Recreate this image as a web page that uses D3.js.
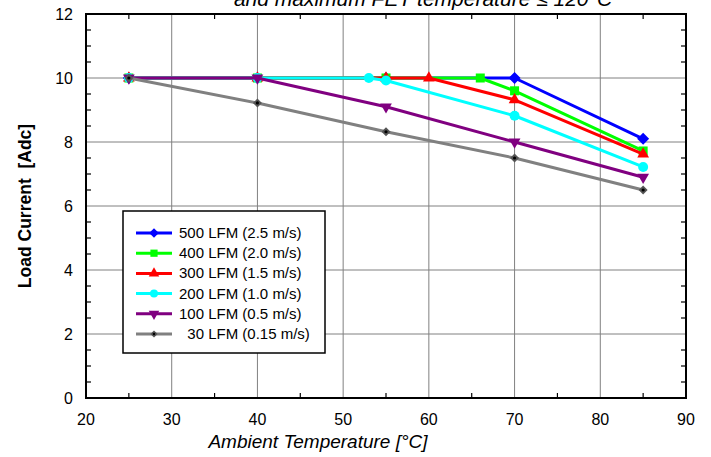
<!DOCTYPE html>
<html>
<head>
<meta charset="utf-8">
<script src="https://cdn.jsdelivr.net/npm/d3@7"></script>
<style>
  body { margin: 0; background: #fff; }
  text { font-family: "Liberation Sans", Arial, sans-serif; }
</style>
</head>
<body>
<div id="chart"></div>
<script>
// data
const labels = ["500 LFM (2.5 m/s)", "400 LFM (2.0 m/s)", "300 LFM (1.5 m/s)",
                "200 LFM (1.0 m/s)", "100 LFM (0.5 m/s)", "\u00a0\u00a030 LFM (0.15 m/s)"];
const temps500 = [25, 40, 55, 70, 85];
const amps500  = [10, 10, 10, 10, 8.1];
const temps400 = [25, 40, 55, 66, 70, 85];
const amps400  = [10, 10, 10, 10, 9.6, 7.72];
const temps300 = [25, 40, 55, 60, 70, 85];
const amps300  = [10, 10, 10, 10, 9.32, 7.62];
const temps200 = [25, 40, 53, 55, 70, 85];
const amps200  = [10, 10, 10, 9.92, 8.82, 7.22];
const temps100 = [25, 40, 55, 70, 85];
const amps100  = [10, 10, 9.1, 8.0, 6.9];
const temps30  = [25, 40, 55, 70, 85];
const amps30   = [10, 9.22, 8.32, 7.5, 6.5];
const xTicks = [20, 30, 40, 50, 60, 70, 80, 90];
const yTicks = [0, 2, 4, 6, 8, 10, 12];

const series = [
    { name: labels[0], t: temps500, a: amps500, color: "#0000ff", sym: "diamond" },
    { name: labels[1], t: temps400, a: amps400, color: "#00ff00", sym: "square" },
    { name: labels[2], t: temps300, a: amps300, color: "#ff0000", sym: "triangle" },
    { name: labels[3], t: temps200, a: amps200, color: "#00ffff", sym: "circle" },
    { name: labels[4], t: temps100, a: amps100, color: "#800080", sym: "down" },
    { name: labels[5], t: temps30,  a: amps30,  color: "#808080", sym: "small" }
];

const W = 711, H = 457;
const margin = { left: 86, right: 25, top: 14, bottom: 59 };

const svg = d3.select("#chart").append("svg")
    .attr("width", W).attr("height", H);

const x = d3.scaleLinear().domain([20, 90]).range([margin.left, W - margin.right]);
const y = d3.scaleLinear().domain([0, 12]).range([H - margin.bottom, margin.top]);

// 잘린 제목 (원본에서도 위쪽이 잘려 있음)
svg.append("text")
    .attr("x", 423).attr("y", 6)
    .attr("text-anchor", "middle")
    .attr("font-size", "21px")
    .attr("font-style", "italic")
    .attr("fill", "#000")
    .text("and maximum FET temperature \u2264 120\u00b0C");

// 격자
svg.append("g").selectAll("line").data(xTicks.slice(1, -1)).join("line")
    .attr("x1", d => x(d)).attr("x2", d => x(d))
    .attr("y1", y(0)).attr("y2", y(12))
    .attr("stroke", "#808080").attr("stroke-width", 1);
svg.append("g").selectAll("line").data(yTicks.slice(1, -1)).join("line")
    .attr("x1", x(20)).attr("x2", x(90))
    .attr("y1", d => y(d)).attr("y2", d => y(d))
    .attr("stroke", "#808080").attr("stroke-width", 1);

// 보조 눈금 (안쪽)
const minorX = d3.range(25, 90, 10);
const minorY = d3.range(0.5, 12, 0.5).filter(v => v % 2 !== 0);
const ticks = svg.append("g").attr("stroke", "#000").attr("stroke-width", 1.2);
minorX.forEach(v => {
    ticks.append("line").attr("x1", x(v)).attr("x2", x(v)).attr("y1", y(0)).attr("y2", y(0) - 5);
    ticks.append("line").attr("x1", x(v)).attr("x2", x(v)).attr("y1", y(12)).attr("y2", y(12) + 5);
});
minorY.forEach(v => {
    ticks.append("line").attr("x1", x(20)).attr("x2", x(20) + 5).attr("y1", y(v)).attr("y2", y(v));
    ticks.append("line").attr("x1", x(90)).attr("x2", x(90) - 5).attr("y1", y(v)).attr("y2", y(v));
});

// 테두리
svg.append("rect")
    .attr("x", x(20)).attr("y", y(12))
    .attr("width", x(90) - x(20)).attr("height", y(0) - y(12))
    .attr("fill", "none").attr("stroke", "#000").attr("stroke-width", 2);

// 눈금 라벨
svg.append("g").selectAll("text").data(xTicks).join("text")
    .attr("x", d => x(d)).attr("y", y(0) + 27)
    .attr("text-anchor", "middle").attr("font-size", "16px")
    .text(d => d);
svg.append("g").selectAll("text").data(yTicks).join("text")
    .attr("x", x(20) - 13).attr("y", d => y(d) + 6)
    .attr("text-anchor", "end").attr("font-size", "16px")
    .text(d => d);

// 축 제목
svg.append("text")
    .attr("x", 318).attr("y", 448)
    .attr("text-anchor", "middle")
    .attr("font-size", "19px").attr("font-style", "italic")
    .text("Ambient Temperature [\u00b0C]");
svg.append("text")
    .attr("transform", `translate(31,206) rotate(-90)`)
    .attr("text-anchor", "middle")
    .attr("font-size", "17.5px").attr("font-weight", "bold")
    .style("white-space", "pre")
    .text("Load Current  [Adc]");

// 마커 그리기
function drawMarker(g, sym, color, cx, cy, scale) {
    const s = scale || 1;
    if (sym === "diamond") {
        const r = 6 * s;
        g.append("path").attr("d", `M${cx},${cy - r}L${cx + r},${cy}L${cx},${cy + r}L${cx - r},${cy}Z`)
            .attr("fill", color);
    } else if (sym === "square") {
        g.append("rect").attr("x", cx - 4.5 * s).attr("y", cy - 4.5 * s)
            .attr("width", 9 * s).attr("height", 9 * s).attr("fill", color);
    } else if (sym === "triangle") {
        g.append("path").attr("d", d3.symbol(d3.symbolTriangle, 60 * s)())
            .attr("transform", `translate(${cx},${cy})`).attr("fill", color);
    } else if (sym === "circle") {
        g.append("circle").attr("cx", cx).attr("cy", cy).attr("r", 5 * s).attr("fill", color);
    } else if (sym === "down") {
        g.append("path").attr("d", d3.symbol(d3.symbolTriangle, 60 * s)())
            .attr("transform", `translate(${cx},${cy}) rotate(180)`).attr("fill", color);
    } else {
        const r = 4.5 * s;
        g.append("path").attr("d", `M${cx},${cy - r}L${cx + r},${cy}L${cx},${cy + r}L${cx - r},${cy}Z`)
            .attr("fill", "#555");
        g.append("circle").attr("cx", cx).attr("cy", cy).attr("r", 1.6 * s).attr("fill", "#000");
    }
}

const line = d3.line().x(d => x(d[0])).y(d => y(d[1]));

// 500 LFM 부터 그려서 30 LFM 이 맨 위
series.forEach(s => {
    const pts = s.t.map((t, i) => [t, s.a[i]]);
    const g = svg.append("g");
    g.append("path").datum(pts)
        .attr("d", line)
        .attr("fill", "none")
        .attr("stroke", s.color)
        .attr("stroke-width", 3)
        .attr("stroke-linejoin", "round");
    pts.forEach(p => drawMarker(g, s.sym, s.color, x(p[0]), y(p[1])));
});

// 범례
const lg = svg.append("g");
lg.append("rect")
    .attr("x", 123).attr("y", 211).attr("width", 202).attr("height", 142)
    .attr("fill", "#fff").attr("stroke", "#000").attr("stroke-width", 1.5);
series.forEach((s, i) => {
    const ly = 233 + i * 20.2;
    lg.append("line").attr("x1", 136).attr("x2", 172).attr("y1", ly).attr("y2", ly)
        .attr("stroke", s.color).attr("stroke-width", 3);
    drawMarker(lg, s.sym, s.color, 154, ly, 0.8);
    lg.append("text")
        .attr("x", 179).attr("y", ly + 5)
        .attr("font-size", "15px")
        .style("white-space", "pre")
        .text(s.name);
});
</script>
</body>
</html>
